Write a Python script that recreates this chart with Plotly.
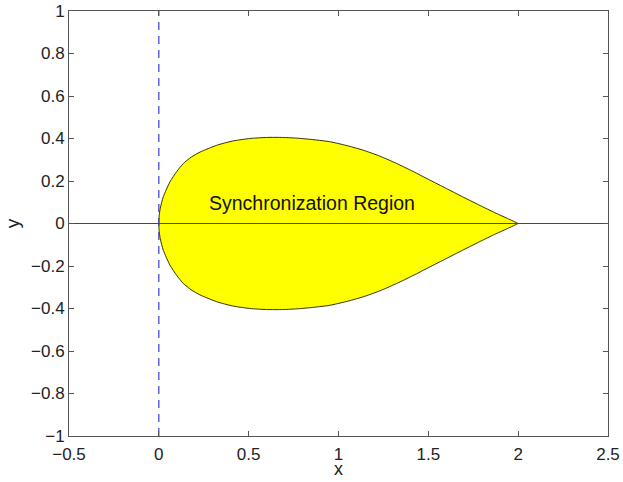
import plotly.graph_objects as go

# Upper boundary of the synchronization region
upper_x = [0.0, 0.002, 0.008, 0.025, 0.062, 0.1, 0.136, 0.18, 0.229, 0.322, 0.41, 0.507, 0.6, 0.69,
           0.78, 0.877, 0.951, 1.04, 1.134, 1.23, 1.322, 1.415, 1.507, 1.6, 1.69, 1.78, 1.877, 1.94, 2.0]
upper_y = [0.0, 0.036, 0.072, 0.126, 0.196, 0.245, 0.282, 0.312, 0.336, 0.368, 0.388, 0.400, 0.405, 0.405,
           0.401, 0.393, 0.385, 0.368, 0.346, 0.317, 0.283, 0.245, 0.205, 0.165, 0.126, 0.088, 0.048, 0.024, 0.0]
# Lower boundary (from x=2 back to x=0)
lower_x = [2.0, 1.94, 1.877, 1.78, 1.69, 1.6, 1.507, 1.415, 1.322, 1.23, 1.134, 1.04, 0.951, 0.877, 0.78,
           0.69, 0.6, 0.507, 0.41, 0.322, 0.229, 0.18, 0.136, 0.1, 0.062, 0.025, 0.008, 0.002, 0.0]
lower_y = [0.0, -0.024, -0.048, -0.088, -0.126, -0.165, -0.205, -0.245, -0.283, -0.317, -0.346, -0.368,
           -0.385, -0.393, -0.401, -0.405, -0.405, -0.400, -0.388, -0.368, -0.336, -0.312, -0.282, -0.245,
           -0.196, -0.126, -0.072, -0.036, 0.0]

hline_x = [-0.5, 2.5]
hline_y = [0, 0]
vline_x = [0, 0]
vline_y = [-1, 1]

x_ticks = [-0.5, 0, 0.5, 1, 1.5, 2, 2.5]
x_tick_text = ["\u22120.5", "0", "0.5", "1", "1.5", "2", "2.5"]
y_ticks = [-1, -0.8, -0.6, -0.4, -0.2, 0, 0.2, 0.4, 0.6, 0.8, 1]
y_tick_text = ["\u22121", "\u22120.8", "\u22120.6", "\u22120.4", "\u22120.2", "0", "0.2", "0.4", "0.6", "0.8", "1"]

label_text = "Synchronization Region"
label_pos = (0.85, 0.095)

FONT = "Liberation Sans, Arial, sans-serif"

fig = go.Figure()
fig.add_trace(go.Scatter(
    x=upper_x + lower_x, y=upper_y + lower_y, mode="lines", fill="toself", fillcolor="#ffff00",
    line=dict(color="#333300", width=1, shape="spline", smoothing=0.6),
    hoverinfo="skip", showlegend=False))
fig.add_trace(go.Scatter(
    x=hline_x, y=hline_y, mode="lines",
    line=dict(color="rgb(50,50,230)", width=1.2), showlegend=False))
fig.add_trace(go.Scatter(
    x=vline_x, y=vline_y, mode="lines",
    line=dict(color="rgb(60,60,210)", width=1.2, dash="8px,6px"), showlegend=False))

fig.add_annotation(x=label_pos[0], y=label_pos[1], text=label_text, showarrow=False,
                   font=dict(family=FONT, size=19.5, color="#111"))

# x-axis title as a paper annotation below the tick labels
fig.add_annotation(x=0.5, y=-0.077, xref="paper", yref="paper", text="x", showarrow=False,
                   xanchor="center", yanchor="middle", borderpad=0,
                   font=dict(family=FONT, size=18, color="#222"))

axis_common = dict(showline=True, linecolor="#555", linewidth=1, mirror="ticks",
                   ticks="inside", ticklen=5, tickcolor="#555", showgrid=False, zeroline=False,
                   automargin=False,
                   tickfont=dict(family=FONT, size=17, color="#222"))

fig.update_xaxes(range=[-0.5, 2.5], tickvals=x_ticks, ticktext=x_tick_text, ticklabelstandoff=3,
                 **axis_common)
fig.update_yaxes(range=[-1, 1], tickvals=y_ticks, ticktext=y_tick_text,
                 title=dict(text="y", font=dict(family=FONT, size=19, color="#222"), standoff=6),
                 **axis_common)

fig.update_layout(width=623, height=482, margin=dict(l=69, r=15, t=11, b=46),
                  plot_bgcolor="white", paper_bgcolor="white", showlegend=False)

fig.write_html("out.html")
